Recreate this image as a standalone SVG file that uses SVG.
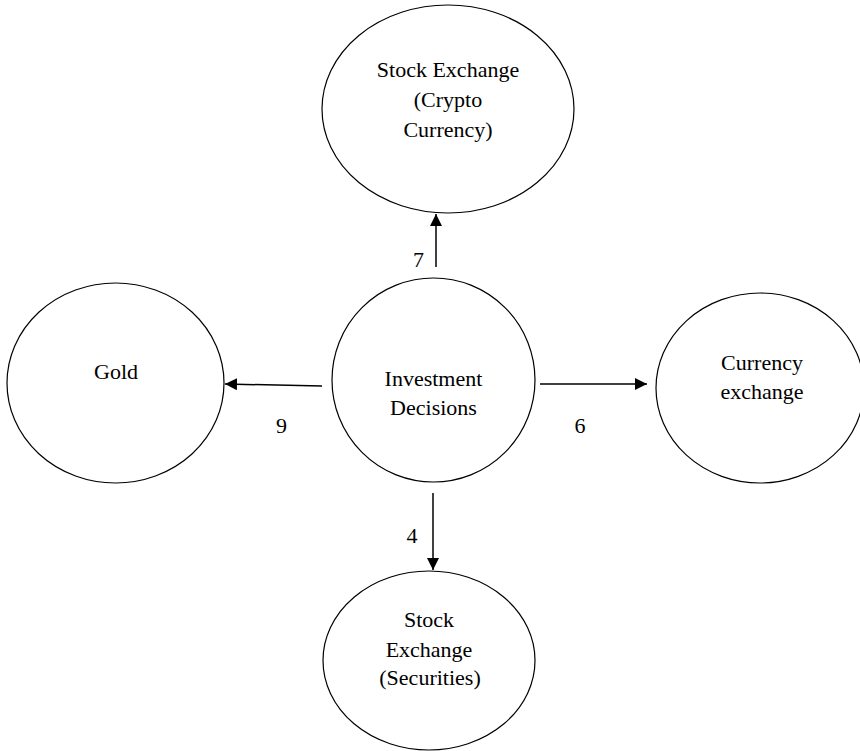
<svg xmlns="http://www.w3.org/2000/svg" width="860" height="751" viewBox="0 0 860 751">
<style>
.node ellipse{fill:#fff;stroke:#000;stroke-width:1.2}
text{font-family:"Liberation Serif","Times New Roman",serif;font-size:22px;fill:#000;text-anchor:middle}
.conn line{stroke:#000;stroke-width:1.5}
</style>
<defs>
<marker id="ah" markerUnits="userSpaceOnUse" markerWidth="12" markerHeight="12" viewBox="0 0 10 10" refX="10" refY="5" orient="auto">
<path d="M0,0 L10,5 L0,10 Z" fill="#000"/>
</marker>
</defs>
<rect width="860" height="751" fill="#fff"/>
<g id="crypto" class="node">
<ellipse cx="448" cy="109" rx="126" ry="104"/>
<text x="448" y="77">Stock Exchange</text>
<text x="448" y="107">(Crypto</text>
<text x="448" y="137">Currency)</text>
</g>
<g id="gold" class="node">
<ellipse cx="115.5" cy="383" rx="108.5" ry="100"/>
<text x="116" y="379">Gold</text>
</g>
<g id="investment" class="node">
<ellipse cx="433.5" cy="380" rx="101.5" ry="102"/>
<text x="433.5" y="386">Investment</text>
<text x="433.5" y="415">Decisions</text>
</g>
<g id="currency" class="node">
<ellipse cx="760" cy="388" rx="104" ry="95"/>
<text x="762" y="370">Currency</text>
<text x="762" y="399">exchange</text>
</g>
<g id="securities" class="node">
<ellipse cx="429" cy="660.5" rx="106" ry="89.5"/>
<text x="429" y="627">Stock</text>
<text x="429" y="657">Exchange</text>
<text x="430" y="685">(Securities)</text>
</g>
<g id="connectors" class="conn">
<line x1="436" y1="267" x2="436" y2="214" marker-end="url(#ah)"/>
<line x1="322" y1="386" x2="225" y2="384" marker-end="url(#ah)"/>
<line x1="540" y1="384" x2="647" y2="384" marker-end="url(#ah)"/>
<line x1="433" y1="493" x2="433" y2="570" marker-end="url(#ah)"/>
<text x="418.5" y="267">7</text>
<text x="281.5" y="433">9</text>
<text x="580" y="433">6</text>
<text x="412" y="543">4</text>
</g>
</svg>
